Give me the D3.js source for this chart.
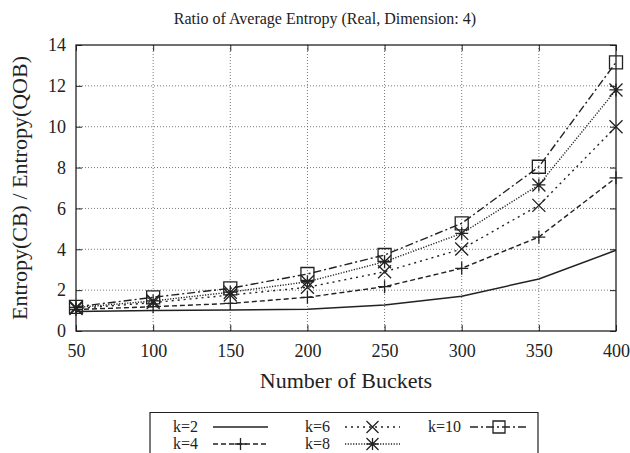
<!DOCTYPE html>
<html><head><meta charset="utf-8">
<script src="https://cdn.jsdelivr.net/npm/d3@7"></script>
<style>body{margin:0;background:#fff}svg{display:block}</style>
</head><body><svg id="c" width="630" height="453"></svg>
<script>
const buckets = [50,100,150,200,250,300,350,400];
const xTicks = [50,100,150,200,250,300,350,400];
const yTicks = [0,2,4,6,8,10,12,14];
const k2  = [0.95,1.0,1.03,1.06,1.27,1.7,2.55,3.95];
const k4  = [1.05,1.19,1.35,1.65,2.17,3.07,4.6,7.5];
const k6  = [1.1,1.39,1.76,2.14,2.9,4.01,6.15,10.0];
const k8  = [1.15,1.47,1.9,2.41,3.39,4.78,7.15,11.8];
const k10 = [1.18,1.65,2.09,2.79,3.72,5.27,8.04,13.15];
const seriesNames = ["k=2","k=4","k=6","k=8","k=10"];
const seriesVals = [k2,k4,k6,k8,k10];
const dashes = [null,"5,3","2,4","1.2,1.5","8,3,2,3"];
const markers = ["none","plus","cross","star","square"];
const FONT = "'Liberation Serif','Tinos','Times New Roman','DejaVu Serif','Noto Serif','FreeSerif',serif";

const svg = d3.select("#c");
const L=76,R=616,T=45,B=331;
const x = d3.scaleLinear().domain([50,400]).range([L,R]);
const y = d3.scaleLinear().domain([0,14]).range([B,T]);

// grid
const g = svg.append("g");
xTicks.slice(1,-1).forEach(v=>g.append("line").attr("x1",x(v)).attr("x2",x(v)).attr("y1",T).attr("y2",B)
  .attr("stroke","#555").attr("stroke-width",0.8).attr("stroke-dasharray","1,2"));
yTicks.slice(1,-1).forEach(v=>g.append("line").attr("x1",L).attr("x2",R).attr("y1",y(v)).attr("y2",y(v))
  .attr("stroke","#555").attr("stroke-width",0.8).attr("stroke-dasharray","1,2"));

// axes with inward ticks
svg.append("g").attr("transform",`translate(0,${B})`).call(d3.axisBottom(x).tickValues(xTicks).tickSize(-6).tickPadding(13));
svg.append("g").attr("transform",`translate(${L},0)`).call(d3.axisLeft(y).tickValues(yTicks).tickSize(-6).tickPadding(10));
svg.append("g").attr("transform",`translate(0,${T})`).call(d3.axisTop(x).tickValues(xTicks).tickSize(-6).tickFormat(""));
svg.append("g").attr("transform",`translate(${R},0)`).call(d3.axisRight(y).tickValues(yTicks).tickSize(-6).tickFormat(""));
svg.selectAll(".domain").remove();
svg.selectAll(".tick line").attr("stroke","#222");
svg.selectAll(".tick text").attr("font-family",FONT).style("font-family",FONT).style("font-size","18px").attr("fill","#222");
svg.append("rect").attr("x",L).attr("y",T).attr("width",R-L).attr("height",B-T).attr("fill","none").attr("stroke","#222").attr("stroke-width",1.3);

// markers
function marker(sel,type,cx,cy,s){
  const p = sel.append("path").attr("fill","none").attr("stroke","#222").attr("stroke-width",1.3);
  let d="";
  if(type==="plus") d=`M${cx-s},${cy}H${cx+s}M${cx},${cy-s}V${cy+s}`;
  else if(type==="cross") d=`M${cx-s},${cy-s}L${cx+s},${cy+s}M${cx-s},${cy+s}L${cx+s},${cy-s}`;
  else if(type==="star") d=`M${cx-s},${cy}H${cx+s}M${cx},${cy-s}V${cy+s}M${cx-s},${cy-s}L${cx+s},${cy+s}M${cx-s},${cy+s}L${cx+s},${cy-s}`;
  else if(type==="square") d=`M${cx-s},${cy-s}H${cx+s}V${cy+s}H${cx-s}Z`;
  p.attr("d",d);
}
const line = d3.line().x((d,i)=>x(buckets[i])).y(d=>y(d));
seriesVals.forEach((vals,si)=>{
  const p = svg.append("path").datum(vals).attr("d",line).attr("fill","none").attr("stroke","#222")
    .attr("stroke-width",si===0?1.5:1.4);
  if(dashes[si]) p.attr("stroke-dasharray",dashes[si]);
  if(markers[si]!=="none") vals.forEach((v,i)=>marker(svg,markers[si],x(buckets[i]),y(v),6.5));
});

function txt(sel){return sel.append("text").attr("font-family",FONT).style("font-family",FONT).attr("fill","#222");}
// title and labels
txt(svg).attr("x",325).attr("y",24).attr("text-anchor","middle").style("font-size","16px").text("Ratio of Average Entropy (Real, Dimension: 4)");
txt(svg).attr("x",346).attr("y",388).attr("text-anchor","middle").style("font-size","22px").text("Number of Buckets");
txt(svg).attr("transform","translate(27,188) rotate(-90)").attr("text-anchor","middle").style("font-size","22px").text("Entropy(CB) / Entropy(QOB)");

// legend
const lg = svg.append("g");
lg.append("path").attr("d","M150,460V412.5H538V460").attr("fill","none").attr("stroke","#222").attr("stroke-width",1.2);
const pos = [[173,427],[173,444],[305,427],[305,444],[428,427]];
seriesNames.forEach((n,si)=>{
  const [lx,ly]=pos[si];
  txt(lg).attr("x",lx).attr("y",ly+5).style("font-size","16px").text(n);
  const sx = lx + (si===4?42:40), ex = sx+(si===4?58:55);
  const l = lg.append("line").attr("x1",sx).attr("x2",ex).attr("y1",ly).attr("y2",ly).attr("stroke","#222").attr("stroke-width",1.3);
  if(dashes[si]) l.attr("stroke-dasharray",dashes[si]);
  if(markers[si]!=="none") marker(lg,markers[si],(sx+ex)/2,ly,6);
});
</script></body></html>
